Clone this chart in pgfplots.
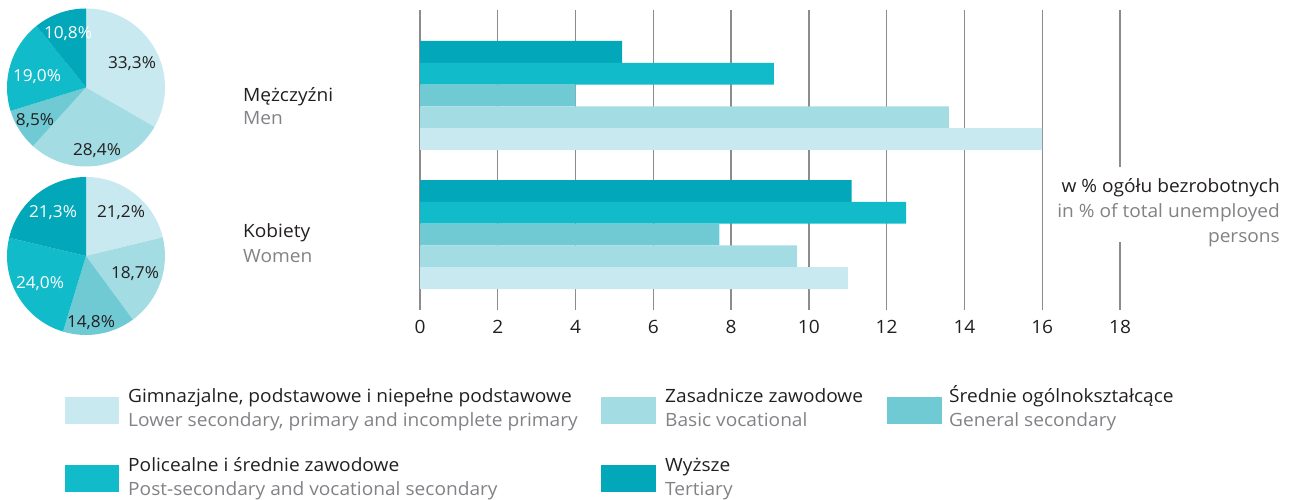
\documentclass[border=0pt]{standalone}
\usepackage{fontspec}
\setmainfont{Open Sans}[FakeStretch=1.045]
\usepackage{pgfplots}
\pgfplotsset{compat=1.18}

\definecolor{c1}{HTML}{C8E9EF}
\definecolor{c2}{HTML}{A3DCE3}
\definecolor{c3}{HTML}{6FCAD4}
\definecolor{c4}{HTML}{12BBC9}
\definecolor{c5}{HTML}{02A8B9}
\definecolor{txt}{HTML}{231F20}
\definecolor{sub}{HTML}{808285}
\definecolor{gridc}{HTML}{8C8C8C}

% pie: centre x, centre y (pt, picture coords), list value/colour, clockwise from 12 o'clock
\newcommand\pie[3]{%
  \xdef\ang{90}%
  \foreach \v/\c in {#3} {%
    \pgfmathsetmacro\nxt{\ang-\v*3.6}%
    \fill[\c] (#1,#2) -- ++(\ang:79) arc[start angle=\ang, end angle=\nxt, radius=79] -- cycle;
    \xdef\ang{\nxt}%
  }%
}
\newcommand\fs{\fontsize{18.3}{22}\selectfont}

\begin{document}
\begin{tikzpicture}
\path[use as bounding box] (0,0) rectangle (1290pt,500pt);

\begin{axis}[
  at={(420pt,190pt)}, anchor=south west,
  scale only axis, width=700pt, height=300pt,
  xbar, bar width=21.8pt,
  xmin=0, xmax=18, ymin=-0.543, ymax=1.615,
  xtick={0,2,...,18}, ytick=\empty,
  xmajorgrids, grid style={line width=1.3pt, gridc},
  axis line style={draw=none}, major tick length=0pt,
  xticklabel style={font=\fs, text=txt, anchor=base},
  xticklabel shift=24pt,
  /pgf/number format/assume math mode=true,
]
% y = 1 men, y = 0 women
\addplot[fill=c5, draw=none, bar shift=43.6pt]  coordinates {(5.2,1) (11.1,0)};
\addplot[fill=c4, draw=none, bar shift=21.8pt]  coordinates {(9.1,1) (12.5,0)};
\addplot[fill=c3, draw=none, bar shift=0pt]     coordinates {(4.0,1) (7.7,0)};
\addplot[fill=c2, draw=none, bar shift=-21.8pt] coordinates {(13.6,1) (9.7,0)};
\addplot[fill=c1, draw=none, bar shift=-43.6pt] coordinates {(16.0,1) (11.0,0)};
\end{axis}

\begin{scope}[x=1pt, y=1pt, every node/.style={inner sep=0pt, font=\fs}]
  % pies
  \pie{86}{412.5}{33.3/c1, 28.4/c2, 8.5/c3, 19.0/c4, 10.8/c5}
  \pie{86}{244}{21.2/c1, 18.7/c2, 14.8/c3, 24.0/c4, 21.3/c5}
  \begin{scope}[every node/.style={inner sep=0pt, font=\fontsize{16.5}{20}\selectfont, anchor=base}]
    \node[text=txt]   at (132,431) {33,3\%};
    \node[text=txt]   at (97,344)  {28,4\%};
    \node[text=txt]   at (35,374)  {8,5\%};
    \node[text=white] at (37,418)  {19,0\%};
    \node[text=white] at (68,461)  {10,8\%};
    \node[text=txt]   at (121,282) {21,2\%};
    \node[text=txt]   at (135,221) {18,7\%};
    \node[text=txt]   at (91,172)  {14,8\%};
    \node[text=white] at (40,211)  {24,0\%};
    \node[text=white] at (53,282)  {21,3\%};
  \end{scope}

  % group labels
  \node[anchor=base west, text=txt] at (243,398) {Mężczyźni};
  \node[anchor=base west, text=sub] at (243,375) {Men};
  \node[anchor=base west, text=txt] at (243,262) {Kobiety};
  \node[anchor=base west, text=sub] at (243,237) {Women};

  % unit note
  \fill[white] (1050,258) rectangle (1285,333);
  \node[anchor=base east, text=txt] at (1280,307) {w \% ogółu bezrobotnych};
  \node[anchor=base east, text=sub] at (1280,282) {in \% of total unemployed};
  \node[anchor=base east, text=sub] at (1280,257) {persons};

  % legend
  \fill[c1] (65,76) rectangle (119,103);
  \node[anchor=base west, text=txt] at (128,97) {Gimnazjalne, podstawowe i niepełne podstawowe};
  \node[anchor=base west, text=sub] at (128,73) {Lower secondary, primary and incomplete primary};
  \fill[c2] (601,76) rectangle (656,103);
  \node[anchor=base west, text=txt] at (665,97) {Zasadnicze zawodowe};
  \node[anchor=base west, text=sub] at (665,73) {Basic vocational};
  \fill[c3] (887,76) rectangle (942,103);
  \node[anchor=base west, text=txt] at (949,97) {Średnie ogólnokształcące};
  \node[anchor=base west, text=sub] at (949,73) {General secondary};
  \fill[c4] (65,8) rectangle (119,35);
  \node[anchor=base west, text=txt] at (128,28) {Policealne i średnie zawodowe};
  \node[anchor=base west, text=sub] at (128,4) {Post-secondary and vocational secondary};
  \fill[c5] (601,8) rectangle (656,35);
  \node[anchor=base west, text=txt] at (665,28) {Wyższe};
  \node[anchor=base west, text=sub] at (665,4) {Tertiary};
\end{scope}
\end{tikzpicture}
\end{document}
